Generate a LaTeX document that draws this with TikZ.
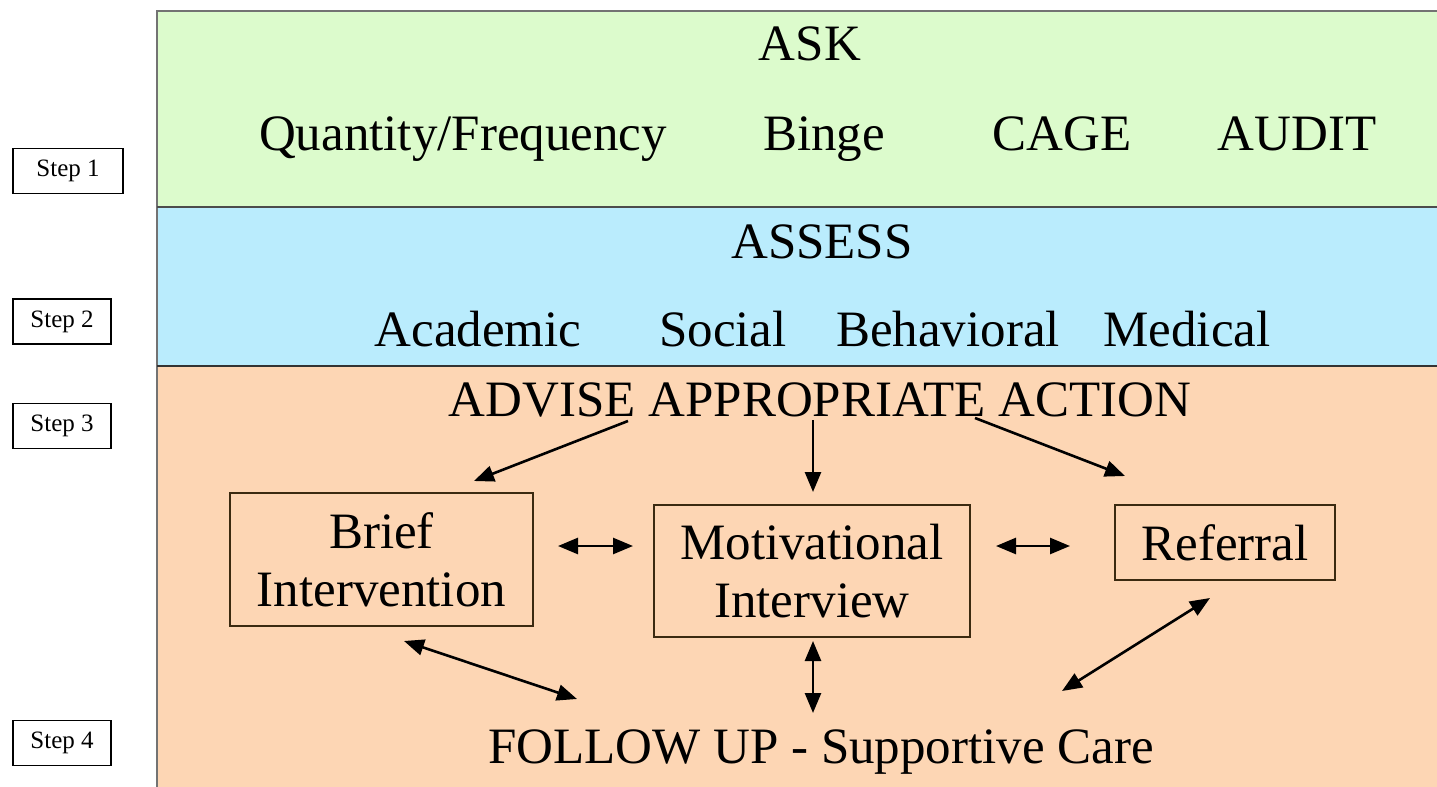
\documentclass[tikz,border=0pt]{standalone}
\usepackage{fontspec}
\setmainfont{Liberation Serif}
\usetikzlibrary{arrows.meta}
\definecolor{askgreen}{HTML}{DCFBCC}
\definecolor{assessblue}{HTML}{BAECFD}
\definecolor{adviseorange}{HTML}{FDD6B4}
\definecolor{boxline}{HTML}{3B2A10}
\tikzset{
  panel/.style={draw=black!55, line width=0.6pt},
  stepbox/.style={draw=black, line width=0.8pt, inner sep=0pt, minimum height=22.5pt, font=\fontsize{12.5}{14}\selectfont},
  bigtxt/.style={anchor=base, inner sep=0pt, font=\fontsize{25.5}{29}\selectfont},
  actbox/.style={draw=boxline, line width=1pt, align=center, inner sep=0pt, font=\fontsize{25.5}{29}\selectfont},
  conn/.style={line width=1.3pt, -{Triangle[length=10pt,width=8pt]}},
  dconn/.style={line width=1.3pt, {Triangle[length=10pt,width=8pt]}-{Triangle[length=10pt,width=8pt]}},
}
\begin{document}
\begin{tikzpicture}[x=0.5pt,y=-0.5pt]
\useasboundingbox (0,0) rectangle (1437,787);
% panels
\path[panel, fill=adviseorange] (157,366) rectangle (1440,790);
\path[panel, fill=assessblue] (157,207) rectangle (1440,366);
\path[panel, fill=askgreen] (157,11) rectangle (1440,207);
\draw[black!70, line width=0.9pt] (157,207) -- (1440,207);
\draw[black!80, line width=1pt] (157,366) -- (1440,366);
% step boxes
\node[stepbox, minimum width=55pt] (s1) at (68,171) {Step 1};
\node[stepbox, minimum width=49pt] (s2) at (62,321.5) {Step 2};
\node[stepbox, minimum width=49pt] (s3) at (62,426) {Step 3};
\node[stepbox, minimum width=49pt] (s4) at (62,743) {Step 4};
% ASK
\node[bigtxt] (ask) at (810,61) {ASK};
\node[bigtxt] (qf) at (463,150) {Quantity/Frequency};
\node[bigtxt] (binge) at (824,150) {Binge};
\node[bigtxt] (cage) at (1062,150) {CAGE};
\node[bigtxt] (audit) at (1297,150) {AUDIT};
% ASSESS
\node[bigtxt] (assess) at (822,258) {ASSESS};
\node[bigtxt] (acad) at (478,346) {Academic};
\node[bigtxt] (social) at (723,346) {Social};
\node[bigtxt] (behav) at (948,346) {Behavioral};
\node[bigtxt] (med) at (1187,346) {Medical};
% ADVISE
\node[bigtxt] (advise) at (820,416) {ADVISE APPROPRIATE ACTION};
\node[actbox, minimum width=151.5pt, minimum height=66.5pt] (brief) at (381.5,559.5) {Brief\\Intervention};
\node[actbox, minimum width=158pt, minimum height=66pt] (motiv) at (812,571) {Motivational\\Interview};
\node[actbox, minimum width=110pt, minimum height=37.5pt] (refer) at (1225,542.5) {Referral};
% FOLLOW UP
\node[bigtxt] (follow) at (821,763) {FOLLOW UP - Supportive Care};
% connector end points
\coordinate (a1s) at (628,421);
\coordinate (a1e) at (474,481);
\coordinate (a2s) at (813,420);
\coordinate (a2e) at (813,492);
\coordinate (a3s) at (975,418);
\coordinate (a3e) at (1125,476);
\coordinate (b1s) at (558,546);
\coordinate (b1e) at (633,546);
\coordinate (b2s) at (996,546);
\coordinate (b2e) at (1070,546);
\coordinate (c1s) at (404,641);
\coordinate (c1e) at (577,699);
\coordinate (c2s) at (813,641);
\coordinate (c2e) at (813,713);
\coordinate (c3s) at (1210,598);
\coordinate (c3e) at (1062,691);
\draw[conn] (a1s) -- (a1e);
\draw[conn] (a2s) -- (a2e);
\draw[conn] (a3s) -- (a3e);
\draw[dconn] (b1s) -- (b1e);
\draw[dconn] (b2s) -- (b2e);
\draw[dconn] (c1s) -- (c1e);
\draw[dconn] (c2s) -- (c2e);
\draw[dconn] (c3s) -- (c3e);
\end{tikzpicture}
\end{document}
